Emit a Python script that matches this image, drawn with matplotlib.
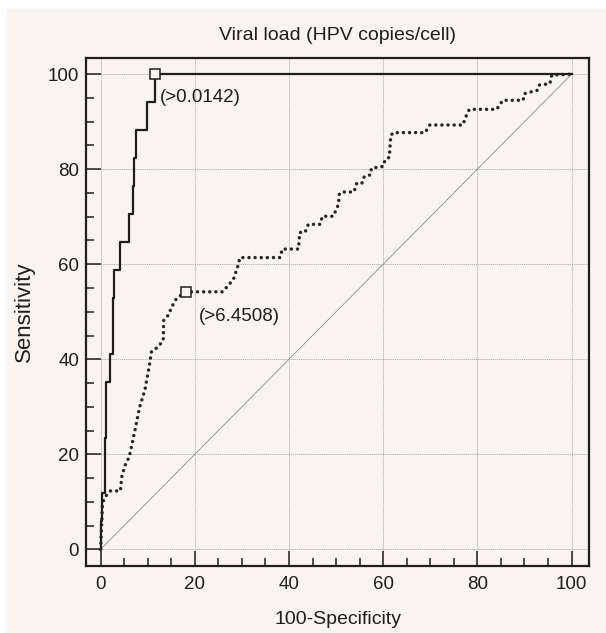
import numpy as np
import matplotlib.pyplot as plt
from matplotlib.patches import Rectangle
from matplotlib.ticker import MultipleLocator

plt.rcParams['font.family'] = ['Liberation Sans', 'DejaVu Sans']

# ROC curve of viral load (solid)
load_fpr = [0, 0, 0.4, 0.4, 0.9, 0.9, 1.1, 1.1, 2.1, 2.1, 2.6, 2.6, 2.8, 2.8, 4.2, 4.2,
            6.1, 6.1, 6.8, 6.8, 7.1, 7.1, 7.5, 7.5, 9.8, 9.8, 11.6, 11.6, 100]
load_tpr = [0, 5.9, 5.9, 11.8, 11.8, 23.5, 23.5, 35.3, 35.3, 41.2, 41.2, 52.9, 52.9, 58.8, 58.8, 64.7,
            64.7, 70.6, 70.6, 76.5, 76.5, 82.4, 82.4, 88.2, 88.2, 94.1, 94.1, 100, 100]

# second ROC curve (dotted)
other_fpr = [0, 0.4, 0.9, 2.1, 4.2, 4.5, 5.2, 6.1, 6.4, 7.3, 8.3, 9.4, 10.3, 10.8, 12.2, 13.3,
             13.4, 14.4, 15.1, 16.1, 18.1, 25.9, 28.2, 29.1, 29.6, 38.1, 38.6, 42.0, 42.3, 43.4,
             44.1, 46.6, 47.1, 49.4, 50.5, 50.7, 51.5, 53.8, 54.4, 55.5, 56.0, 57.3, 57.5, 60.0,
             60.4, 61.3, 61.6, 62.1, 68.9, 69.9, 76.9, 77.7, 78.3, 84.1, 85.4, 89.7, 90.0, 92.7,
             93.1, 95.4, 95.8, 100]
other_tpr = [0, 9.7, 11.0, 12.3, 12.3, 15.3, 17.7, 19.5, 20.9, 25.1, 30.0, 33.5, 38.4, 41.6, 42.6, 44.0,
             48.2, 49.3, 51.0, 52.8, 54.2, 54.2, 56.8, 59.5, 61.4, 61.4, 63.2, 63.2, 66.7, 66.7,
             68.4, 68.4, 70.1, 70.1, 72.6, 74.9, 75.2, 75.2, 77.1, 77.1, 78.5, 78.8, 80.2, 80.6,
             82.0, 82.5, 87.0, 87.7, 87.7, 89.3, 89.3, 91.4, 92.6, 92.6, 94.5, 94.5, 95.9, 96.6,
             97.7, 98.0, 99.8, 100]

# optimal cut-off points
cut_x = [11.6, 18.1]
cut_y = [100, 54.2]
cut_labels = ['(>0.0142)', '(>6.4508)']

bg = '#fbf3f0'
ink = '#1e1e1e'

fig = plt.figure(figsize=(6.06, 6.33), dpi=100)
fig.patch.set_facecolor('white')
fig.patches.append(Rectangle((7 / 606, 0), 1, (633 - 9) / 633, transform=fig.transFigure,
                             facecolor=bg, edgecolor='none', zorder=-1))

ax = fig.add_axes([86 / 606, 67 / 633, 503 / 606, 508 / 633])
ax.set_facecolor(bg)

ax.plot([0, 100], [0, 100], color='#8a8a8a', lw=0.6, zorder=2)
ax.plot(other_fpr, other_tpr, color='#262626', lw=2.5, linestyle=(0, (0.01, 1.75)),
        dash_capstyle='round', zorder=3)
ax.plot(load_fpr, load_tpr, color=ink, lw=1.6, zorder=4)
ax.plot(cut_x, cut_y, 's', ms=7, mfc=bg, mec=ink, mew=1.1, zorder=5)

ax.text(12.6, 95.0, cut_labels[0], fontsize=13.5, color=ink, va='center', ha='left')
ax.text(20.9, 49.1, cut_labels[1], fontsize=13.5, color=ink, va='center', ha='left')

ax.set_xlim(-3.1, 103.7)
ax.set_ylim(-3.5, 103.4)
ax.xaxis.set_major_locator(MultipleLocator(20))
ax.yaxis.set_major_locator(MultipleLocator(20))
ax.xaxis.set_minor_locator(MultipleLocator(5))
ax.yaxis.set_minor_locator(MultipleLocator(5))
ax.tick_params(which='both', direction='in', colors=ink, labelsize=13.5, width=1.1)
ax.tick_params(which='major', length=11)
ax.tick_params(which='minor', length=6)
ax.tick_params(axis='x', pad=7)
ax.tick_params(axis='y', pad=5)
ax.grid(True, which='major', color='#a8a8a8', lw=0.6, linestyle=(0, (1.5, 1)))
ax.set_axisbelow(True)
for s in ax.spines.values():
    s.set_linewidth(1.6)
    s.set_color(ink)

ax.set_title('Viral load (HPV copies/cell)', fontsize=14, color=ink, pad=13)
ax.set_xlabel('100-Specificity', fontsize=14, color=ink, labelpad=13)
ax.set_ylabel('Sensitivity', fontsize=16, color=ink, labelpad=9)

fig.savefig('out.png', dpi=100, facecolor=fig.get_facecolor())
